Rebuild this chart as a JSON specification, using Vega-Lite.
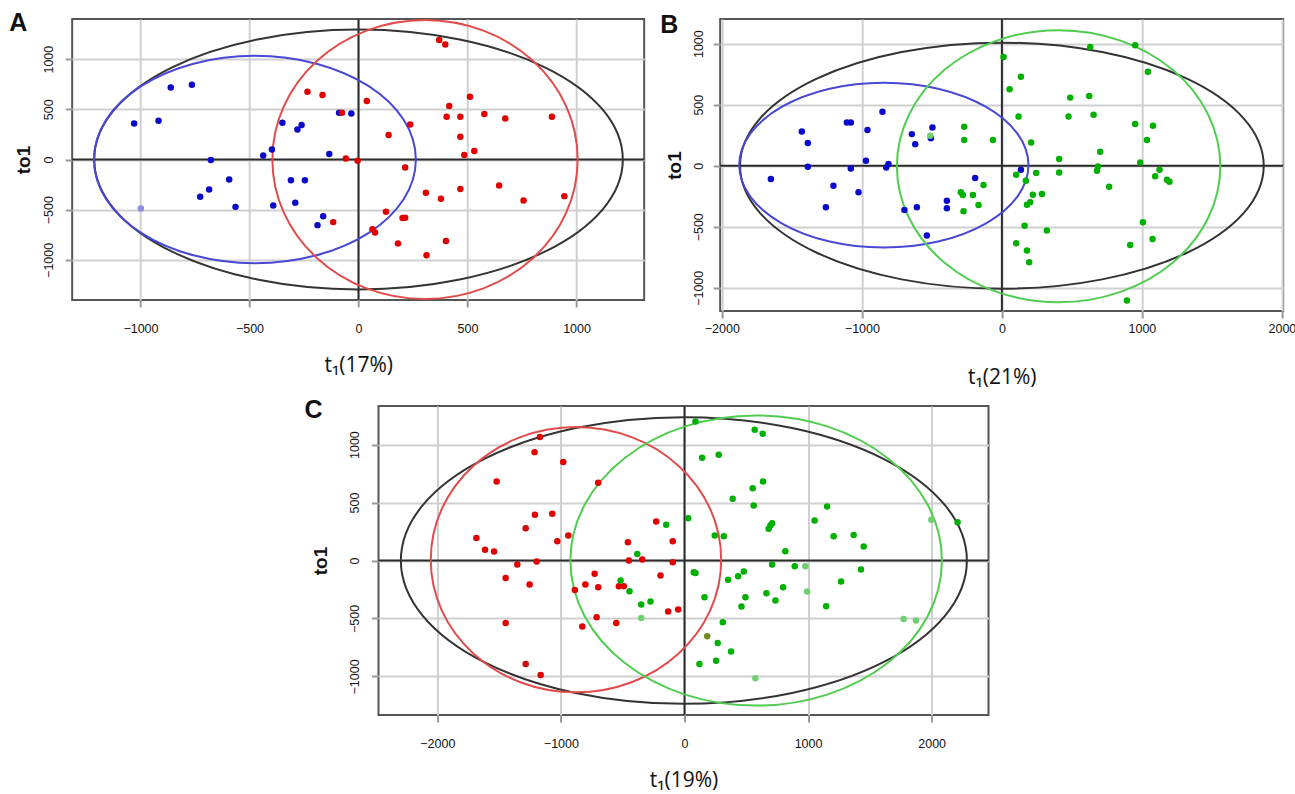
{
  "$schema": "https://vega.github.io/schema/vega-lite/v6.json",
  "background": "white",
  "padding": {"left": 8, "top": 10, "right": 0, "bottom": 0},
  "config": {
    "view": {"stroke": "#555555", "strokeWidth": 2},
    "axis": {
      "domain": false, "grid": true, "gridColor": "#d0d0d0", "gridWidth": 2,
      "tickColor": "#999999", "tickWidth": 2, "tickSize": 7,
      "labelFont": "Liberation Sans", "labelFontSize": 12.5, "labelColor": "#111111", "labelFlush": false,
      "titleFont": "Open Sans", "titleFontSize": 21, "titleFontWeight": "normal", "titleColor": "#111111"
    },
    "axisY": {"titleFont": "Liberation Sans", "titleFontWeight": "bold", "titleFontSize": 19, "labelAngle": -90, "labelAlign": "center", "labelBaseline": "alphabetic"},
    "title": {"font": "Liberation Sans", "fontSize": 25, "fontWeight": "bold", "color": "#111111", "anchor": "start", "frame": "group", "offset": 0, "baseline": "alphabetic"}
  },
  "datasets": {
    "ptsA": [
      {"x":-1029,"y":359,"g":"blue"},{"x":-917,"y":386,"g":"blue"},{"x":-861,"y":718,"g":"blue"},{"x":-764,"y":745,"g":"blue"},{"x":-998,"y":-489,"g":"blue2"},{"x":-677,"y":-6,"g":"blue"},{"x":-593,"y":-199,"g":"blue"},{"x":-685,"y":-299,"g":"blue"},{"x":-726,"y":-372,"g":"blue"},{"x":-564,"y":-472,"g":"blue"},{"x":-437,"y":40,"g":"blue"},{"x":-397,"y":100,"g":"blue"},{"x":-349,"y":366,"g":"blue"},{"x":-280,"y":299,"g":"blue"},{"x":-261,"y":343,"g":"blue"},{"x":-310,"y":-206,"g":"blue"},{"x":-246,"y":-206,"g":"blue"},{"x":-391,"y":-458,"g":"blue"},{"x":-290,"y":-432,"g":"blue"},{"x":-162,"y":-565,"g":"blue"},{"x":-188,"y":-654,"g":"blue"},{"x":-134,"y":54,"g":"blue"},{"x":-89,"y":466,"g":"blue"},{"x":-33,"y":459,"g":"blue"},
      {"x":-234,"y":675,"g":"red"},{"x":-165,"y":642,"g":"red"},{"x":-76,"y":466,"g":"red"},{"x":38,"y":582,"g":"red"},{"x":-58,"y":10,"g":"red"},{"x":-4,"y":-13,"g":"red"},{"x":138,"y":243,"g":"red"},{"x":237,"y":349,"g":"red"},{"x":214,"y":-80,"g":"red"},{"x":-116,"y":-624,"g":"red"},{"x":126,"y":-521,"g":"red"},{"x":202,"y":-584,"g":"red"},{"x":214,"y":-581,"g":"red"},{"x":64,"y":-694,"g":"red"},{"x":76,"y":-728,"g":"red"},{"x":181,"y":-837,"g":"red"},{"x":312,"y":-953,"g":"red"},{"x":401,"y":-811,"g":"red"},{"x":309,"y":-332,"g":"red"},{"x":378,"y":-392,"g":"red"},{"x":467,"y":-295,"g":"red"},{"x":645,"y":-259,"g":"red"},{"x":757,"y":-409,"g":"red"},{"x":944,"y":-365,"g":"red"},{"x":370,"y":1190,"g":"red"},{"x":398,"y":1147,"g":"red"},{"x":511,"y":625,"g":"red"},{"x":416,"y":532,"g":"red"},{"x":404,"y":426,"g":"red"},{"x":467,"y":426,"g":"red"},{"x":577,"y":453,"g":"red"},{"x":673,"y":409,"g":"red"},{"x":887,"y":426,"g":"red"},{"x":467,"y":226,"g":"red"},{"x":531,"y":84,"g":"red"},{"x":485,"y":44,"g":"red"}
    ],
    "ptsB": [
      {"x":-1650,"y":-109,"g":"blue"},{"x":-1429,"y":281,"g":"blue"},{"x":-1386,"y":186,"g":"blue"},{"x":-1386,"y":-8,"g":"blue"},{"x":-1257,"y":-341,"g":"blue"},{"x":-1203,"y":-164,"g":"blue"},{"x":-1107,"y":354,"g":"blue"},{"x":-1079,"y":354,"g":"blue"},{"x":-960,"y":292,"g":"blue"},{"x":-1079,"y":-22,"g":"blue"},{"x":-971,"y":41,"g":"blue"},{"x":-1024,"y":-218,"g":"blue"},{"x":-853,"y":442,"g":"blue"},{"x":-826,"y":-14,"g":"blue"},{"x":-810,"y":14,"g":"blue"},{"x":-643,"y":259,"g":"blue"},{"x":-619,"y":177,"g":"blue"},{"x":-507,"y":226,"g":"blue"},{"x":-496,"y":313,"g":"blue"},{"x":-696,"y":-362,"g":"blue"},{"x":-607,"y":-341,"g":"blue"},{"x":-393,"y":-286,"g":"blue"},{"x":-393,"y":-349,"g":"blue"},{"x":-536,"y":-572,"g":"blue"},{"x":-191,"y":-101,"g":"blue"},{"x":136,"y":-33,"g":"blue"},
      {"x":-512,"y":245,"g":"green2"},{"x":-269,"y":319,"g":"green"},{"x":-269,"y":210,"g":"green"},{"x":-293,"y":-218,"g":"green"},{"x":-279,"y":-240,"g":"green"},{"x":-274,"y":-373,"g":"green"},{"x":-64,"y":210,"g":"green"},{"x":-131,"y":-158,"g":"green"},{"x":-207,"y":-240,"g":"green"},{"x":-167,"y":-321,"g":"green"},{"x":12,"y":891,"g":"green"},{"x":136,"y":728,"g":"green"},{"x":55,"y":627,"g":"green"},{"x":631,"y":973,"g":"green"},{"x":952,"y":987,"g":"green"},{"x":1043,"y":769,"g":"green"},{"x":119,"y":403,"g":"green"},{"x":488,"y":558,"g":"green"},{"x":624,"y":572,"g":"green"},{"x":476,"y":403,"g":"green"},{"x":655,"y":417,"g":"green"},{"x":952,"y":341,"g":"green"},{"x":1079,"y":327,"g":"green"},{"x":1036,"y":210,"g":"green"},{"x":209,"y":191,"g":"green"},{"x":702,"y":114,"g":"green"},{"x":409,"y":55,"g":"green"},{"x":988,"y":27,"g":"green"},{"x":686,"y":-6,"g":"green"},{"x":679,"y":-41,"g":"green"},{"x":409,"y":-55,"g":"green"},{"x":245,"y":-60,"g":"green"},{"x":102,"y":-74,"g":"green"},{"x":171,"y":-123,"g":"green"},{"x":1126,"y":-33,"g":"green"},{"x":1095,"y":-87,"g":"green"},{"x":1179,"y":-114,"g":"green"},{"x":1197,"y":-131,"g":"green"},{"x":766,"y":-172,"g":"green"},{"x":221,"y":-237,"g":"green"},{"x":286,"y":-231,"g":"green"},{"x":179,"y":-319,"g":"green"},{"x":202,"y":-300,"g":"green"},{"x":162,"y":-491,"g":"green"},{"x":321,"y":-531,"g":"green"},{"x":102,"y":-635,"g":"green"},{"x":179,"y":-695,"g":"green"},{"x":195,"y":-790,"g":"green"},{"x":1007,"y":-463,"g":"green"},{"x":1076,"y":-600,"g":"green"},{"x":916,"y":-649,"g":"green"},{"x":893,"y":-1104,"g":"green"}
    ],
    "ptsC": [
      {"x":-1170,"y":1065,"g":"red"},{"x":-1213,"y":935,"g":"red"},{"x":-981,"y":849,"g":"red"},{"x":-1520,"y":682,"g":"red"},{"x":-698,"y":670,"g":"red"},{"x":-1210,"y":394,"g":"red"},{"x":-1070,"y":403,"g":"red"},{"x":-1285,"y":279,"g":"red"},{"x":-1684,"y":195,"g":"red"},{"x":-1614,"y":92,"g":"red"},{"x":-1541,"y":78,"g":"red"},{"x":-1353,"y":-35,"g":"red"},{"x":-1196,"y":-9,"g":"red"},{"x":-1029,"y":167,"g":"red"},{"x":-940,"y":216,"g":"red"},{"x":-1447,"y":-150,"g":"red"},{"x":-1253,"y":-207,"g":"red"},{"x":-1447,"y":-539,"g":"red"},{"x":-1285,"y":-893,"g":"red"},{"x":-1164,"y":-988,"g":"red"},{"x":-887,"y":-254,"g":"red"},{"x":-802,"y":-207,"g":"red"},{"x":-727,"y":-115,"g":"red"},{"x":-698,"y":-230,"g":"red"},{"x":-827,"y":-570,"g":"red"},{"x":-711,"y":-490,"g":"red"},{"x":-552,"y":-539,"g":"red"},{"x":-531,"y":-222,"g":"red"},{"x":-491,"y":-222,"g":"red"},{"x":-458,"y":158,"g":"red"},{"x":-450,"y":0,"g":"red"},{"x":-342,"y":9,"g":"red"},{"x":-229,"y":337,"g":"red"},{"x":-95,"y":167,"g":"red"},{"x":-95,"y":-15,"g":"red"},{"x":-194,"y":-130,"g":"red"},{"x":-132,"y":-440,"g":"red"},{"x":-51,"y":-423,"g":"red"},
      {"x":-148,"y":308,"g":"green"},{"x":30,"y":365,"g":"green"},{"x":-382,"y":57,"g":"green"},{"x":-517,"y":-173,"g":"green"},{"x":-445,"y":-265,"g":"green"},{"x":-350,"y":-380,"g":"green"},{"x":-275,"y":-354,"g":"green"},{"x":-350,"y":-496,"g":"green2"},{"x":75,"y":-101,"g":"green"},{"x":89,"y":1200,"g":"green"},{"x":568,"y":1128,"g":"green"},{"x":633,"y":1093,"g":"green"},{"x":143,"y":886,"g":"green"},{"x":277,"y":912,"g":"green"},{"x":552,"y":624,"g":"green"},{"x":636,"y":682,"g":"green"},{"x":390,"y":532,"g":"green"},{"x":560,"y":475,"g":"green"},{"x":695,"y":302,"g":"green"},{"x":709,"y":322,"g":"green"},{"x":681,"y":273,"g":"green"},{"x":1053,"y":345,"g":"green"},{"x":1154,"y":466,"g":"green"},{"x":1207,"y":210,"g":"green"},{"x":1369,"y":221,"g":"green"},{"x":1450,"y":121,"g":"green"},{"x":1997,"y":351,"g":"green2"},{"x":2210,"y":331,"g":"green"},{"x":245,"y":216,"g":"green"},{"x":318,"y":210,"g":"green"},{"x":816,"y":80,"g":"green"},{"x":709,"y":-35,"g":"green"},{"x":892,"y":-49,"g":"green"},{"x":978,"y":-49,"g":"green2"},{"x":1428,"y":-78,"g":"green"},{"x":1267,"y":-181,"g":"green"},{"x":89,"y":-107,"g":"green"},{"x":353,"y":-167,"g":"green"},{"x":434,"y":-136,"g":"green"},{"x":480,"y":-95,"g":"green"},{"x":162,"y":-317,"g":"green"},{"x":493,"y":-317,"g":"green"},{"x":461,"y":-397,"g":"green"},{"x":663,"y":-282,"g":"green"},{"x":736,"y":-345,"g":"green"},{"x":798,"y":-231,"g":"green"},{"x":992,"y":-268,"g":"green2"},{"x":1146,"y":-395,"g":"green"},{"x":310,"y":-533,"g":"green"},{"x":1773,"y":-504,"g":"green2"},{"x":1873,"y":-518,"g":"green2"},{"x":269,"y":-711,"g":"green"},{"x":377,"y":-786,"g":"green"},{"x":121,"y":-893,"g":"green"},{"x":256,"y":-864,"g":"green"},{"x":574,"y":-1016,"g":"green2"},{"x":184,"y":-654,"g":"olive"}
    ],
    "ellA": [
      {"e":"eall","i":0,"x":1212,"y":0},{"e":"eall","i":1,"x":1120,"y":496},{"e":"eall","i":2,"x":857,"y":916},{"e":"eall","i":3,"x":464,"y":1196},{"e":"eall","i":4,"x":0,"y":1295},{"e":"eall","i":5,"x":-464,"y":1196},{"e":"eall","i":6,"x":-857,"y":916},{"e":"eall","i":7,"x":-1120,"y":496},{"e":"eall","i":8,"x":-1212,"y":0},{"e":"eall","i":9,"x":-1120,"y":-496},{"e":"eall","i":10,"x":-857,"y":-916},{"e":"eall","i":11,"x":-464,"y":-1196},{"e":"eall","i":12,"x":0,"y":-1295},{"e":"eall","i":13,"x":464,"y":-1196},{"e":"eall","i":14,"x":857,"y":-916},{"e":"eall","i":15,"x":1120,"y":-496},
      {"e":"eblue","i":0,"x":263,"y":0},{"e":"eblue","i":1,"x":207,"y":396},{"e":"eblue","i":2,"x":47,"y":731},{"e":"eblue","i":3,"x":-193,"y":955},{"e":"eblue","i":4,"x":-475,"y":1034},{"e":"eblue","i":5,"x":-757,"y":955},{"e":"eblue","i":6,"x":-997,"y":731},{"e":"eblue","i":7,"x":-1157,"y":396},{"e":"eblue","i":8,"x":-1213,"y":0},{"e":"eblue","i":9,"x":-1157,"y":-396},{"e":"eblue","i":10,"x":-997,"y":-731},{"e":"eblue","i":11,"x":-757,"y":-955},{"e":"eblue","i":12,"x":-475,"y":-1034},{"e":"eblue","i":13,"x":-193,"y":-955},{"e":"eblue","i":14,"x":47,"y":-731},{"e":"eblue","i":15,"x":207,"y":-396},
      {"e":"ered","i":0,"x":1005,"y":0},{"e":"ered","i":1,"x":952,"y":532},{"e":"ered","i":2,"x":800,"y":983},{"e":"ered","i":3,"x":573,"y":1284},{"e":"ered","i":4,"x":305,"y":1390},{"e":"ered","i":5,"x":37,"y":1284},{"e":"ered","i":6,"x":-190,"y":983},{"e":"ered","i":7,"x":-342,"y":532},{"e":"ered","i":8,"x":-395,"y":0},{"e":"ered","i":9,"x":-342,"y":-532},{"e":"ered","i":10,"x":-190,"y":-983},{"e":"ered","i":11,"x":37,"y":-1284},{"e":"ered","i":12,"x":305,"y":-1390},{"e":"ered","i":13,"x":573,"y":-1284},{"e":"ered","i":14,"x":800,"y":-983},{"e":"ered","i":15,"x":952,"y":-532}
    ],
    "ellB": [
      {"e":"eall","i":0,"x":1870,"y":0},{"e":"eall","i":1,"x":1728,"y":386},{"e":"eall","i":2,"x":1322,"y":713},{"e":"eall","i":3,"x":716,"y":931},{"e":"eall","i":4,"x":0,"y":1008},{"e":"eall","i":5,"x":-716,"y":931},{"e":"eall","i":6,"x":-1322,"y":713},{"e":"eall","i":7,"x":-1728,"y":386},{"e":"eall","i":8,"x":-1870,"y":0},{"e":"eall","i":9,"x":-1728,"y":-386},{"e":"eall","i":10,"x":-1322,"y":-713},{"e":"eall","i":11,"x":-716,"y":-931},{"e":"eall","i":12,"x":0,"y":-1008},{"e":"eall","i":13,"x":716,"y":-931},{"e":"eall","i":14,"x":1322,"y":-713},{"e":"eall","i":15,"x":1728,"y":-386},
      {"e":"eblue","i":0,"x":190,"y":5},{"e":"eblue","i":1,"x":111,"y":263},{"e":"eblue","i":2,"x":-113,"y":482},{"e":"eblue","i":3,"x":-448,"y":629},{"e":"eblue","i":4,"x":-843,"y":680},{"e":"eblue","i":5,"x":-1238,"y":629},{"e":"eblue","i":6,"x":-1573,"y":482},{"e":"eblue","i":7,"x":-1797,"y":263},{"e":"eblue","i":8,"x":-1876,"y":5},{"e":"eblue","i":9,"x":-1797,"y":-253},{"e":"eblue","i":10,"x":-1573,"y":-472},{"e":"eblue","i":11,"x":-1238,"y":-619},{"e":"eblue","i":12,"x":-843,"y":-670},{"e":"eblue","i":13,"x":-448,"y":-619},{"e":"eblue","i":14,"x":-113,"y":-472},{"e":"eblue","i":15,"x":111,"y":-253},
      {"e":"egreen","i":0,"x":1560,"y":-4},{"e":"egreen","i":1,"x":1472,"y":422},{"e":"egreen","i":2,"x":1222,"y":784},{"e":"egreen","i":3,"x":847,"y":1025},{"e":"egreen","i":4,"x":405,"y":1110},{"e":"egreen","i":5,"x":-37,"y":1025},{"e":"egreen","i":6,"x":-412,"y":784},{"e":"egreen","i":7,"x":-662,"y":422},{"e":"egreen","i":8,"x":-750,"y":-4},{"e":"egreen","i":9,"x":-662,"y":-430},{"e":"egreen","i":10,"x":-412,"y":-792},{"e":"egreen","i":11,"x":-37,"y":-1033},{"e":"egreen","i":12,"x":405,"y":-1118},{"e":"egreen","i":13,"x":847,"y":-1033},{"e":"egreen","i":14,"x":1222,"y":-792},{"e":"egreen","i":15,"x":1472,"y":-430}
    ],
    "ellC": [
      {"e":"eall","i":0,"x":2285,"y":0},{"e":"eall","i":1,"x":2111,"y":473},{"e":"eall","i":2,"x":1614,"y":875},{"e":"eall","i":3,"x":871,"y":1143},{"e":"eall","i":4,"x":-5,"y":1237},{"e":"eall","i":5,"x":-881,"y":1143},{"e":"eall","i":6,"x":-1624,"y":875},{"e":"eall","i":7,"x":-2121,"y":473},{"e":"eall","i":8,"x":-2295,"y":0},{"e":"eall","i":9,"x":-2121,"y":-473},{"e":"eall","i":10,"x":-1624,"y":-875},{"e":"eall","i":11,"x":-881,"y":-1143},{"e":"eall","i":12,"x":-5,"y":-1237},{"e":"eall","i":13,"x":871,"y":-1143},{"e":"eall","i":14,"x":1614,"y":-875},{"e":"eall","i":15,"x":2111,"y":-473},
      {"e":"ered","i":0,"x":297,"y":7},{"e":"ered","i":1,"x":208,"y":445},{"e":"ered","i":2,"x":-47,"y":816},{"e":"ered","i":3,"x":-428,"y":1064},{"e":"ered","i":4,"x":-878,"y":1151},{"e":"ered","i":5,"x":-1328,"y":1064},{"e":"ered","i":6,"x":-1709,"y":816},{"e":"ered","i":7,"x":-1964,"y":445},{"e":"ered","i":8,"x":-2053,"y":7},{"e":"ered","i":9,"x":-1964,"y":-431},{"e":"ered","i":10,"x":-1709,"y":-802},{"e":"ered","i":11,"x":-1328,"y":-1050},{"e":"ered","i":12,"x":-878,"y":-1137},{"e":"ered","i":13,"x":-428,"y":-1050},{"e":"ered","i":14,"x":-47,"y":-802},{"e":"ered","i":15,"x":208,"y":-431},
      {"e":"egreen","i":0,"x":2083,"y":0},{"e":"egreen","i":1,"x":1969,"y":479},{"e":"egreen","i":2,"x":1643,"y":885},{"e":"egreen","i":3,"x":1155,"y":1157},{"e":"egreen","i":4,"x":580,"y":1252},{"e":"egreen","i":5,"x":5,"y":1157},{"e":"egreen","i":6,"x":-483,"y":885},{"e":"egreen","i":7,"x":-809,"y":479},{"e":"egreen","i":8,"x":-923,"y":0},{"e":"egreen","i":9,"x":-809,"y":-479},{"e":"egreen","i":10,"x":-483,"y":-885},{"e":"egreen","i":11,"x":5,"y":-1157},{"e":"egreen","i":12,"x":580,"y":-1252},{"e":"egreen","i":13,"x":1155,"y":-1157},{"e":"egreen","i":14,"x":1643,"y":-885},{"e":"egreen","i":15,"x":1969,"y":-479}
    ]
  },
  "spacing": 8,
  "center": true,
  "vconcat": [
    {
      "spacing": 13,
      "hconcat": [
        {
          "width": 572, "height": 281,
          "title": {"text": "A", "dx": -63, "dy": 24},
          "layer": [
            {"data": {"values": [{}]}, "mark": {"type": "rule", "color": "#2a2a2a", "strokeWidth": 2}, "encoding": {"x": {"datum": 0, "type": "quantitative", "scale": {"domain": [-1313, 1310], "nice": false, "zero": false}, "axis": {"values": [-1000, -500, 0, 500, 1000], "format": "d", "title": "t₁(17%)", "labelPadding": 15.5, "titlePadding": 19}}}},
            {"data": {"values": [{}]}, "mark": {"type": "rule", "color": "#2a2a2a", "strokeWidth": 2}, "encoding": {"y": {"datum": 0, "type": "quantitative", "scale": {"domain": [-1400, 1400], "nice": false, "zero": false}, "axis": {"values": [-1000, -500, 0, 500, 1000], "format": "d", "title": "to1", "labelPadding": 13, "titlePadding": 9}}}},
            {"data": {"name": "ellA"}, "mark": {"type": "line", "interpolate": "cardinal-closed", "strokeWidth": 2}, "encoding": {
              "x": {"field": "x", "type": "quantitative"}, "y": {"field": "y", "type": "quantitative"},
              "color": {"field": "e", "type": "nominal", "legend": null, "scale": {"domain": ["blue","blue2","red","green","green2","olive","eall","eblue","ered","egreen"], "range": ["#0a0ac8","#8c8ce0","#e00000","#00b000","#70d070","#708a20","#333333","#4848d4","#e04c4c","#50cc50"]}},
              "order": {"field": "i", "type": "quantitative"}}},
            {"data": {"name": "ptsA"}, "mark": {"type": "circle", "size": 42, "opacity": 1}, "encoding": {
              "x": {"field": "x", "type": "quantitative"}, "y": {"field": "y", "type": "quantitative"},
              "color": {"field": "g", "type": "nominal", "legend": null}}}
          ]
        },
        {
          "width": 563, "height": 292,
          "title": {"text": "B", "dx": -60, "dy": 16, "offset": -4},
          "layer": [
            {"data": {"values": [{}]}, "mark": {"type": "rule", "color": "#2a2a2a", "strokeWidth": 2}, "encoding": {"x": {"datum": 0, "type": "quantitative", "scale": {"domain": [-2012, 2009], "nice": false, "zero": false}, "axis": {"values": [-2000, -1000, 0, 1000, 2000], "format": "d", "title": "t₁(21%)", "labelPadding": 4, "titlePadding": 32}}}},
            {"data": {"values": [{}]}, "mark": {"type": "rule", "color": "#2a2a2a", "strokeWidth": 2}, "encoding": {"y": {"datum": 0, "type": "quantitative", "scale": {"domain": [-1190, 1202], "nice": false, "zero": false}, "axis": {"values": [-1000, -500, 0, 500, 1000], "format": "d", "title": "to1", "labelPadding": 11, "titlePadding": 8}}}},
            {"data": {"name": "ellB"}, "mark": {"type": "line", "interpolate": "cardinal-closed", "strokeWidth": 2}, "encoding": {
              "x": {"field": "x", "type": "quantitative"}, "y": {"field": "y", "type": "quantitative"},
              "color": {"field": "e", "type": "nominal", "legend": null},
              "order": {"field": "i", "type": "quantitative"}}},
            {"data": {"name": "ptsB"}, "mark": {"type": "circle", "size": 42, "opacity": 1}, "encoding": {
              "x": {"field": "x", "type": "quantitative"}, "y": {"field": "y", "type": "quantitative"},
              "color": {"field": "g", "type": "nominal", "legend": null}}}
          ]
        }
      ]
    },
    {
      "width": 610, "height": 309,
      "title": {"text": "C", "dx": -74, "dy": 22},
      "layer": [
        {"data": {"values": [{}]}, "mark": {"type": "rule", "color": "#2a2a2a", "strokeWidth": 2}, "encoding": {"x": {"datum": 0, "type": "quantitative", "scale": {"domain": [-2476, 2460], "nice": false, "zero": false}, "axis": {"values": [-2000, -1000, 0, 1000, 2000], "format": "d", "title": "t₁(19%)", "labelPadding": 15, "titlePadding": 20}}}},
        {"data": {"values": [{}]}, "mark": {"type": "rule", "color": "#2a2a2a", "strokeWidth": 2}, "encoding": {"y": {"datum": 0, "type": "quantitative", "scale": {"domain": [-1333, 1333], "nice": false, "zero": false}, "axis": {"values": [-1000, -500, 0, 500, 1000], "format": "d", "title": "to1", "labelPadding": 13, "titlePadding": 18}}}},
        {"data": {"name": "ellC"}, "mark": {"type": "line", "interpolate": "cardinal-closed", "strokeWidth": 2}, "encoding": {
          "x": {"field": "x", "type": "quantitative"}, "y": {"field": "y", "type": "quantitative"},
          "color": {"field": "e", "type": "nominal", "legend": null},
          "order": {"field": "i", "type": "quantitative"}}},
        {"data": {"name": "ptsC"}, "mark": {"type": "circle", "size": 42, "opacity": 1}, "encoding": {
          "x": {"field": "x", "type": "quantitative"}, "y": {"field": "y", "type": "quantitative"},
          "color": {"field": "g", "type": "nominal", "legend": null}}}
      ]
    }
  ]
}
